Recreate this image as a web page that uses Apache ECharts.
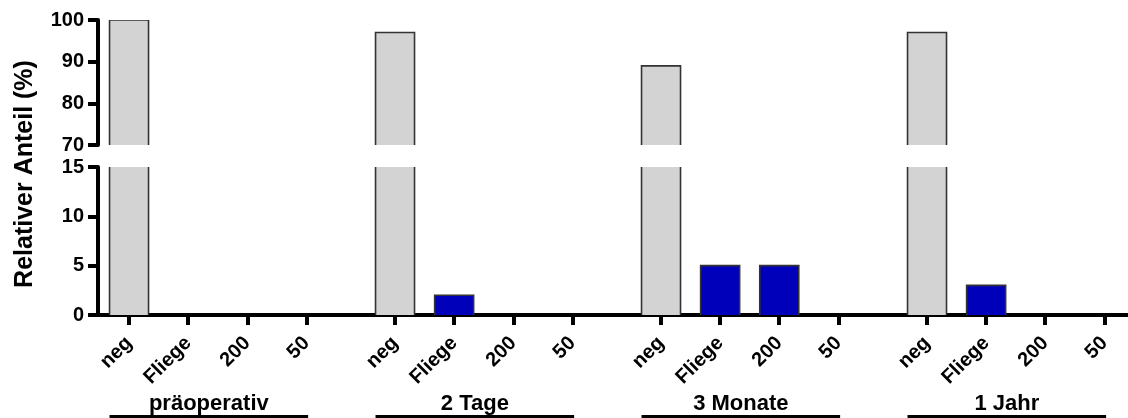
<!DOCTYPE html>
<html>
<head>
<meta charset="utf-8">
<script src="https://cdn.jsdelivr.net/npm/echarts@6/dist/echarts.min.js"></script>
<style>
html,body{margin:0;padding:0;background:#fff;}
#chart{width:1128px;height:418px;}
</style>
</head>
<body>
<div id="chart"></div>
<script>
// ---- data ----
const groups = ['präoperativ', '2 Tage', '3 Monate', '1 Jahr'];
const categories = ['neg', 'Fliege', '200', '50'];
const negValues = [100, 97, 89, 97];
const fliegeValues = [0, 2, 5, 3];
const v200Values = [0, 0, 5, 0];
const v50Values = [0, 0, 0, 0];
const topTicks = [70, 80, 90, 100];
const bottomTicks = [0, 5, 10, 15];
const yTitle = 'Relativer Anteil (%)';

// ---- layout helpers ----
const GROUP_STEP = 4.5;
const X_MIN = -0.525, X_MAX = 16.9;
const FONT = 'Liberation Sans, Arial, sans-serif';
const seriesValues = [negValues, fliegeValues, v200Values, v50Values];
const fills = ['#d3d3d3', '#0000bb', '#0000bb', '#0000bb'];

const barData = [];
const tickPos = [];
const tickName = {};
groups.forEach((g, gi) => {
  categories.forEach((c, ci) => {
    const x = gi * GROUP_STEP + ci;
    tickPos.push(x);
    tickName[Math.round(x * 2)] = c;
    barData.push([x, seriesValues[ci][gi], ci]);
  });
});
const groupCenters = groups.map((g, gi) => gi * GROUP_STEP + 1.35);
const groupName = {};
groupCenters.forEach((x, gi) => { groupName[Math.round(x * 100)] = groups[gi]; });

const HALF = 19.5, BORDER = '#333', BW = 1.6;
function makeBottomRender(lo, hi) {
  return function (params, api) {
    const x = api.value(0), v = api.value(1), ci = api.value(2);
    if (!(v > lo)) return null;
    const top = Math.min(v, hi);
    const pb = api.coord([x, lo]);
    const pt = api.coord([x, top]);
    const l = pb[0] - HALF, r = pb[0] + HALF;
    const children = [{
      type: 'rect',
      shape: { x: l, y: pt[1], width: r - l, height: pb[1] - pt[1] },
      style: { fill: fills[ci] }
    }];
    if (v <= hi) {
      children.push({ type: 'polyline', shape: { points: [[l, pb[1]], [l, pt[1]], [r, pt[1]], [r, pb[1]]] }, style: { stroke: BORDER, lineWidth: BW, fill: null } });
    } else {
      children.push({ type: 'line', shape: { x1: l, y1: pb[1], x2: l, y2: pt[1] }, style: { stroke: BORDER, lineWidth: BW } });
      children.push({ type: 'line', shape: { x1: r, y1: pb[1], x2: r, y2: pt[1] }, style: { stroke: BORDER, lineWidth: BW } });
    }
    return { type: 'group', children: children };
  };
}
function makeTopRender(lo) {
  return function (params, api) {
    const x = api.value(0), v = api.value(1), ci = api.value(2);
    if (!(v > lo)) return null;
    const pb = api.coord([x, lo]);
    const pt = api.coord([x, v]);
    const l = pb[0] - HALF, r = pb[0] + HALF;
    return { type: 'group', children: [
      { type: 'rect', shape: { x: l, y: pt[1], width: r - l, height: pb[1] - pt[1] }, style: { fill: fills[ci] } },
      { type: 'polyline', shape: { points: [[l, pb[1]], [l, pt[1]], [r, pt[1]], [r, pb[1]]] }, style: { stroke: BORDER, lineWidth: BW, fill: null } }
    ] };
  };
}

const axisLineStyle = { color: '#000', width: 4 };
const yLabel = { color: '#000', fontFamily: FONT, fontWeight: 'bold', fontSize: 20, margin: 14 };

const underlineSeries = groups.map((g, gi) => ({
  type: 'line', xAxisIndex: 2, yAxisIndex: 2, symbol: 'none', silent: true,
  lineStyle: { color: '#000', width: 3 },
  data: [[gi * GROUP_STEP - 0.33, 0.5], [gi * GROUP_STEP + 3.03, 0.5]]
}));

const option = {
  animation: false,
  backgroundColor: '#fff',
  grid: [
    { left: 98, right: 0, top: 20, height: 125 },
    { left: 98, right: 0, top: 167, height: 148 },
    { left: 98, right: 0, top: 416, height: 1 }
  ],
  xAxis: [
    { type: 'value', gridIndex: 0, min: X_MIN, max: X_MAX, show: false },
    {
      type: 'value', gridIndex: 1, min: X_MIN, max: X_MAX,
      splitLine: { show: false },
      axisLine: { show: true, onZero: false, lineStyle: axisLineStyle },
      axisTick: { show: true, length: 10, lineStyle: { color: '#000', width: 4 }, customValues: tickPos },
      axisLabel: {
        customValues: tickPos, rotate: 45, margin: 25,
        color: '#000', fontFamily: FONT, fontWeight: 'bold', fontSize: 20,
        formatter: v => tickName[Math.round(v * 2)] || ''
      }
    },
    {
      type: 'value', gridIndex: 2, min: X_MIN, max: X_MAX, position: 'top',
      splitLine: { show: false }, axisLine: { show: false, onZero: false }, axisTick: { show: false },
      axisLabel: {
        customValues: groupCenters, margin: 1,
        color: '#000', fontFamily: FONT, fontWeight: 'bold', fontSize: 22,
        formatter: v => groupName[Math.round(v * 100)] || ''
      }
    }
  ],
  yAxis: [
    {
      type: 'value', gridIndex: 0, min: 70, max: 100, interval: 10,
      splitLine: { show: false },
      axisLine: { show: true, onZero: false, lineStyle: axisLineStyle },
      axisTick: { show: true, length: 10, lineStyle: { color: '#000', width: 4 } },
      axisLabel: yLabel
    },
    {
      type: 'value', gridIndex: 1, min: 0, max: 15, interval: 5,
      splitLine: { show: false },
      axisLine: { show: true, onZero: false, lineStyle: axisLineStyle },
      axisTick: { show: true, length: 10, lineStyle: { color: '#000', width: 4 } },
      axisLabel: yLabel,
      name: yTitle, nameLocation: 'middle', nameRotate: 90, nameGap: 60,
      nameTextStyle: { color: '#000', fontFamily: FONT, fontWeight: 'bold', fontSize: 25, padding: [0, 0, 0, 134] }
    },
    { type: 'value', gridIndex: 2, min: 0, max: 1, show: false }
  ],
  series: [
    { type: 'custom', xAxisIndex: 0, yAxisIndex: 0, renderItem: makeTopRender(70), data: barData, encode: { x: 0, y: 1 }, clip: true },
    { type: 'custom', xAxisIndex: 1, yAxisIndex: 1, renderItem: makeBottomRender(0, 15), data: barData, encode: { x: 0, y: 1 }, clip: true }
  ].concat(underlineSeries)
};

const chart = echarts.init(document.getElementById('chart'), null, { renderer: 'canvas' });
chart.setOption(option);
</script>
</body>
</html>
